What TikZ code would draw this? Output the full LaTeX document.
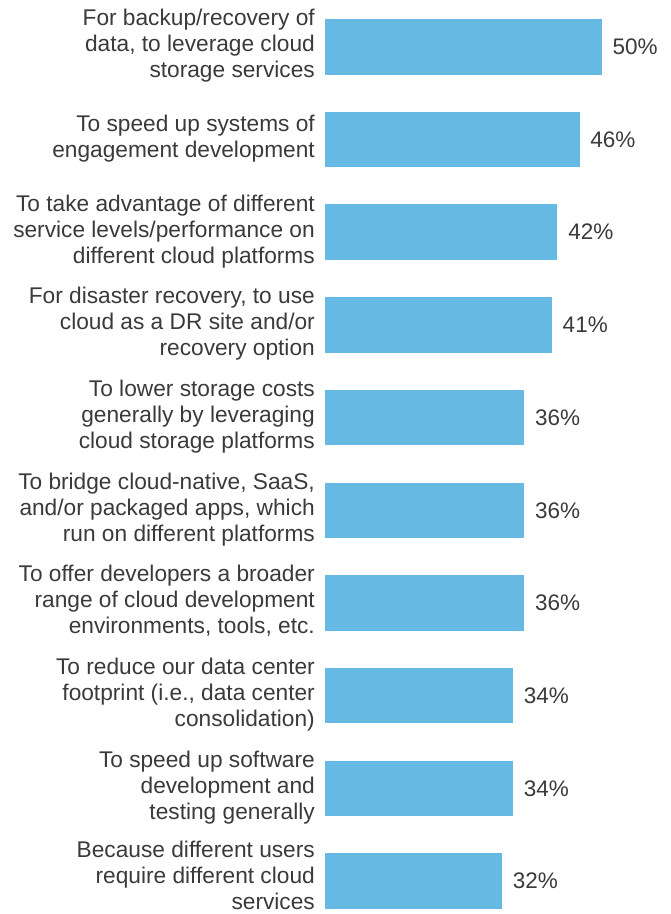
\documentclass[tikz,border=0pt]{standalone}
\usepackage{fontspec}
\setmainfont{Liberation Sans}
\definecolor{barblue}{HTML}{66B9E2}
\definecolor{txtgray}{HTML}{3A3A3A}
\tikzset{
  barbox/.style={fill=barblue, draw=none, inner sep=0pt, anchor=west, minimum height=55.5pt},
  lbl/.style={text=txtgray, font=\fontsize{22.7}{26}\selectfont, align=right, anchor=east,
              inner sep=0pt, text depth=4.7pt, yshift=0.85pt},
  pct/.style={text=txtgray, font=\fontsize{22.5}{26}\selectfont, anchor=west, inner sep=0pt},
}
\newcommand{\surveybar}[5][]{%
  \pgfmathsetmacro{\yc}{19+92.7*#3+27.75}%
  \node[barbox, minimum width={5.54pt*#4}] (bar#2) at (324.5,\yc) {};
  \node[pct] (pct#2) at ([xshift=10.5pt]bar#2.east) {#4\%};
  \node[lbl,#1] (lbl#2) at (315,\yc) {#5};
}
\begin{document}
\begin{tikzpicture}[x=1pt,y=-1pt]
\useasboundingbox (0,0) rectangle (671,914);
\surveybar{a}{0}{50}{For backup/recovery of\\data, to leverage cloud\\storage services}
\surveybar{b}{1}{46}{To speed up systems of\\engagement development}
\surveybar{c}{2}{42}{To take advantage of different\\service levels/performance on\\different cloud platforms}
\surveybar{d}{3}{41}{For disaster recovery, to use\\cloud as a DR site and/or\\recovery option}
\surveybar{e}{4}{36}{To lower storage costs\\generally by leveraging\\cloud storage platforms}
\surveybar{f}{5}{36}{To bridge cloud-native, SaaS,\\and/or packaged apps, which\\run on different platforms}
\surveybar{g}{6}{36}{To offer developers a broader\\range of cloud development\\environments, tools, etc.}
\surveybar{h}{7}{34}{To reduce our data center\\footprint (i.e., data center\\consolidation)}
\surveybar{i}{8}{34}{To speed up software\\development and\\testing generally}
\surveybar[yshift=2.5pt]{j}{9}{32}{Because different users\\require different cloud\\services}
\end{tikzpicture}
\end{document}
